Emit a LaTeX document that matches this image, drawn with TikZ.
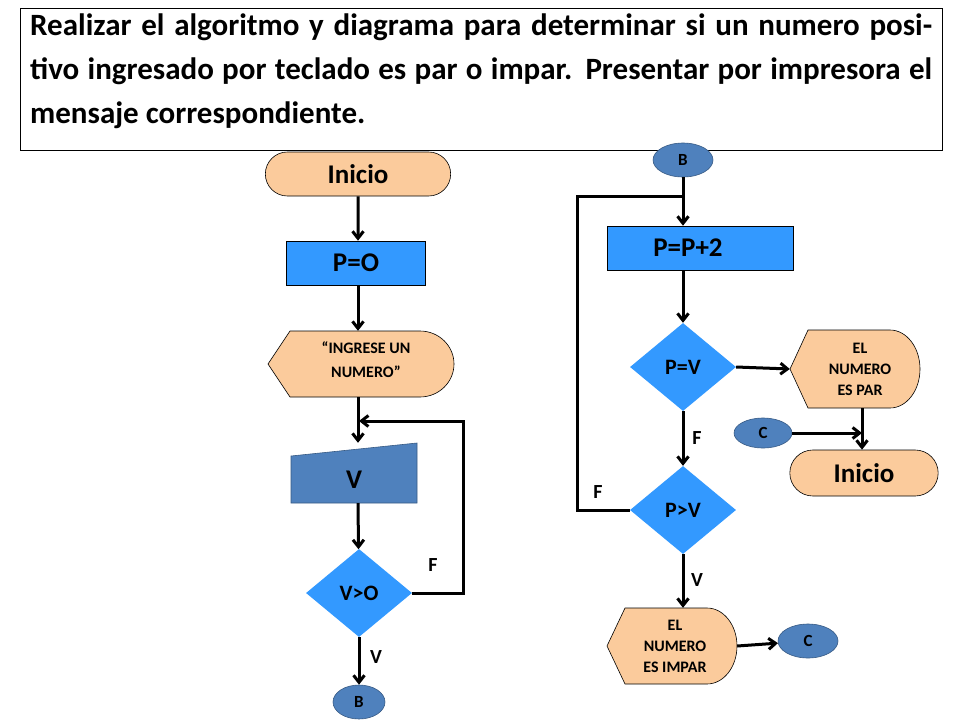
\documentclass[tikz,border=0pt]{standalone}
\usepackage{fontspec}
\setmainfont{Carlito}
\usetikzlibrary{shapes.geometric,shapes.misc,arrows.meta}
\definecolor{peach}{HTML}{FBCB9C}
\definecolor{bright}{HTML}{3399FF}
\definecolor{steel}{HTML}{4F81BD}
\tikzset{
 every node/.style={font=\bfseries},
 ln/.style={line width=3pt,draw=black},
 arr/.style={ln,-{Straight Barb[length=7pt,width=11pt]}},
 term/.style={rounded rectangle,draw=black,line width=0.6pt,fill=peach,font=\bfseries\fontsize{27}{30}\selectfont},
 proc/.style={rectangle,draw=black,line width=0.6pt,fill=bright,font=\bfseries\fontsize{27}{30}\selectfont,inner sep=0},
 dia/.style={diamond,fill=bright,inner sep=0,font=\bfseries\fontsize{22}{24}\selectfont,minimum width=106pt,minimum height=88pt},
 conn/.style={ellipse,fill=steel,draw=steel!70!black,line width=0.6pt,inner sep=0,font=\bfseries\fontsize{17}{18}\selectfont},
 hold/.style={rectangle,inner sep=0,align=center,font=\bfseries\fontsize{16}{21}\selectfont},
 lab/.style={font=\bfseries\fontsize{20}{22}\selectfont},
}
\begin{document}
\begin{tikzpicture}[x=1pt,y=-1pt]
\useasboundingbox (0,0) rectangle (960,720);
% title
\draw[line width=0.8pt] (20,8) rectangle (942,150);
\node[anchor=north west,text width=902pt,align=justify,inner sep=0,font=\bfseries\fontsize{31}{44}\selectfont] (title) at (30,14)
 {Realizar el algoritmo y diagrama para determinar si un numero positivo ingresado por teclado es par o impar. Presentar por impresora el mensaje correspondiente.};
% left column
\node[term,minimum width=192pt,minimum height=44pt] (ini) at (358,174) {Inicio};
\node[proc,minimum width=139pt,minimum height=44pt] (p0) at (356,263) {P=O};
\node[hold,minimum width=186pt,minimum height=66pt] (disp) at (361,364) {};
\draw[fill=peach,line width=0.6pt] (268,364) -- (290,331) -- (420,331) arc[start angle=-90,end angle=90,x radius=34,y radius=33] -- (290,397) -- cycle;
\node[hold,font=\bfseries\fontsize{16}{24}\selectfont] at (366,360) {“INGRESE UN\\NUMERO”};
\node[hold,minimum width=126pt,minimum height=60pt] (vin) at (354,473) {};
\draw[fill=steel,draw=steel!70!black,line width=0.6pt] (291,456) -- (417,443) -- (417,503) -- (291,503) -- cycle;
\node[font=\bfseries\fontsize{27}{30}\selectfont] at (354,480) {V};
\node[dia] (d1) at (359,593) {V>O};
\node[conn,minimum width=52pt,minimum height=34pt] (b1) at (359,702) {B};
\coordinate (j1) at (359,421);
\draw[arr] (ini) -- (ini|-p0.north);
\draw[arr] (p0.south-|ini) -- (disp.north-|ini);
\draw[arr] (disp.south-|ini) -- (vin.north-|ini);
\draw[arr] (vin.south-|ini) -- (d1);
\draw[arr] (d1) -- (b1);
\draw[arr] (d1.east) -- (463,593) -- (463,421) -- (j1);
\node[lab] at (433,565) {F};
\node[lab] at (376,657) {V};
% right column
\node[conn,minimum width=60pt,minimum height=34pt] (b2) at (683,160) {B};
\node[proc,minimum width=186pt,minimum height=44pt] (pp) at (700,248) {};
\node[font=\bfseries\fontsize{27}{30}\selectfont] at (688,248) {P=P+2};
\node[dia] (d2) at (683,367) {P=V};
\node[dia] (d3) at (683,510) {P>V};
\node[hold,minimum width=130pt,minimum height=78pt] (par) at (855,369) {};
\draw[fill=peach,line width=0.6pt] (790,369) -- (808,330) -- (890,330) arc[start angle=-90,end angle=90,x radius=30,y radius=39] -- (808,408) -- cycle;
\node[hold] at (860,369) {EL\\NUMERO\\ES PAR};
\node[conn,minimum width=58pt,minimum height=30pt] (c1) at (763,433) {C};
\node[term,minimum width=155pt,minimum height=46pt] (ini2) at (864,473) {Inicio};
\node[hold,minimum width=130pt,minimum height=76pt] (imp) at (672,646) {};
\draw[fill=peach,line width=0.6pt] (607,646) -- (625,608) -- (707,608) arc[start angle=-90,end angle=90,x radius=30,y radius=38] -- (625,684) -- cycle;
\node[hold] at (675,646) {EL\\NUMERO\\ES IMPAR};
\node[conn,minimum width=60pt,minimum height=34pt] (c2) at (808,641) {C};
\coordinate (j2) at (683,196);
\coordinate (j3) at (862,433);
\draw[arr] (b2) -- (b2|-pp.north);
\draw[arr] (pp.south-|b2) -- (d2);
\draw[arr] (d2) -- (d3);
\draw[arr] (d2.east) -- (par.west);
\draw[arr] (par.south-|j3) -- (ini2.north-|j3);
\draw[arr] (c1) -- (j3);
\draw[ln] (d3.west) -- (577,510) -- (577,196) -- (j2);
\draw[arr] (d3) -- (d3|-imp.north);
\draw[arr] (imp.east) -- (c2);
\node[lab] at (697,438) {F};
\node[lab] at (598,492) {F};
\node[lab] at (697,580) {V};
\end{tikzpicture}
\end{document}
